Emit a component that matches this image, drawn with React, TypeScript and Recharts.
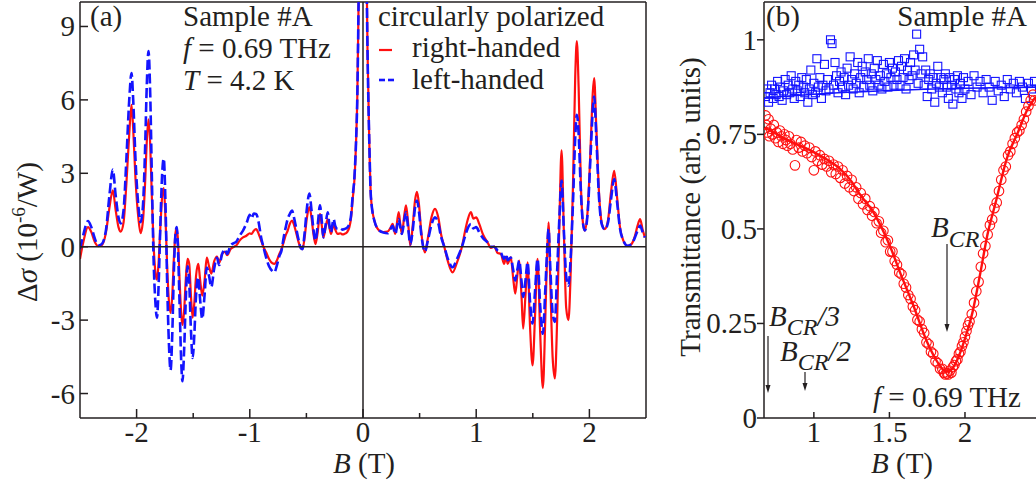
import React from 'react';
import { ComposedChart, LineChart, Line, Scatter, XAxis, YAxis, ReferenceLine } from 'recharts';

const FONT = '"Liberation Serif", "Times New Roman", serif';
const INK = '#231f20';
const RED = '#ff1010';
const BLUE = '#1414ff';

// ---- panel (a): delta sigma vs B, right/left handed ----
const fieldA = [
  -2.5, -2.47, -2.43, -2.4, -2.37, -2.34, -2.31, -2.27, -2.24, -2.21, -2.185, -2.16, -2.14, -2.115, -2.09, -2.065,
  -2.045, -2.03, -2.01, -1.985, -1.965, -1.945, -1.925, -1.91, -1.895, -1.88, -1.865, -1.85, -1.835, -1.82, -1.805,
  -1.79, -1.775, -1.76, -1.745, -1.73, -1.715, -1.7, -1.685, -1.67, -1.655, -1.645, -1.635, -1.62, -1.605, -1.595,
  -1.58, -1.565, -1.55, -1.535, -1.52, -1.505, -1.49, -1.475, -1.455, -1.44, -1.42, -1.4, -1.38, -1.36, -1.34,
  -1.315, -1.29, -1.27, -1.245, -1.22, -1.2, -1.17, -1.14, -1.12, -1.09, -1.06, -1.03, -1.0, -0.985, -0.965, -0.944,
  -0.92, -0.9, -0.88, -0.856, -0.83, -0.8, -0.783, -0.76, -0.74, -0.72, -0.7, -0.68, -0.665, -0.645, -0.627, -0.61,
  -0.592, -0.57, -0.55, -0.535, -0.515, -0.495, -0.474, -0.455, -0.44, -0.42, -0.4, -0.38, -0.365, -0.35, -0.33,
  -0.312, -0.297, -0.283, -0.26, -0.245, -0.224, -0.2, -0.18, -0.165, -0.14, -0.121, -0.105, -0.092, -0.075, -0.062,
  -0.05, -0.039, -0.025, 0, 0.025, 0.04, 0.055, 0.07, 0.1, 0.144, 0.18, 0.218, 0.24, 0.262, 0.285, 0.315, 0.33,
  0.344, 0.365, 0.38, 0.4, 0.418, 0.44, 0.46, 0.477, 0.495, 0.515, 0.547, 0.575, 0.605, 0.636, 0.665, 0.69, 0.718,
  0.75, 0.791, 0.83, 0.874, 0.9, 0.925, 0.953, 0.975, 1.0, 1.027, 1.06, 1.1, 1.13, 1.16, 1.188, 1.218, 1.247, 1.265,
  1.277, 1.306, 1.325, 1.345, 1.365, 1.38, 1.4, 1.415, 1.435, 1.454, 1.475, 1.498, 1.52, 1.542, 1.565, 1.589, 1.61,
  1.625, 1.639, 1.655, 1.675, 1.695, 1.715, 1.735, 1.754, 1.775, 1.795, 1.815, 1.835, 1.855, 1.875, 1.889, 1.905,
  1.925, 1.945, 1.96, 1.985, 2.01, 2.03, 2.042, 2.06, 2.085, 2.11, 2.136, 2.165, 2.19, 2.219, 2.245, 2.27, 2.3,
  2.336, 2.37, 2.4, 2.425, 2.448, 2.47, 2.49,
];
const rightHanded = [
  -0.5, 0.2, 0.8, 0.6, 0.2, 0.02, 0.05, 0.6, 1.6, 2.3, 1.5, 0.8, 0.62, 1.0, 2.6, 4.6,
  5.8, 4.8, 2.8, 1.2, 0.55, 1.0, 2.6, 4.3, 5.2, 4.2, 2.0, 0.1, -1.0, -1.35, -0.6,
  0.8, 2.0, 2.4, 1.2, -0.8, -2.2, -2.7, -2.0, -0.4, 0.6, 0.75, 0.3, -1.4, -2.8, -3.2,
  -2.6, -1.3, -0.5, -0.7, -2.0, -2.9, -2.3, -1.2, -0.7, -1.3, -2.0, -1.4, -0.45, -0.8, -1.1,
  -0.6, -0.4, -0.65, -0.3, -0.2, -0.35, -0.1, 0.0, 0.05, 0.25, 0.38, 0.45, 0.55, 0.52, 0.65, 0.72,
  0.5, 0.25, 0.0, -0.23, -0.5, -0.68, -0.7, -0.55, -0.3, -0.1, 0.2, 0.5, 0.66, 0.95, 1.07, 0.9,
  0.6, 0.2, -0.05, -0.1, 0.4, 1.2, 1.62, 1.2, 0.6, 0.1, 0.6, 1.34, 0.9, 0.38, 0.8,
  1.13, 0.8, 0.52, 0.93, 0.7, 0.52, 0.55, 0.5, 0.52, 0.6, 0.79, 1.2, 1.9, 2.8, 4.2,
  6.2, 10, 16, 30, 14, 8, 4.4, 2.03, 1.07, 0.66, 0.6, 0.62, 0.75, 0.93, 0.52, 1.41, 0.9,
  0.52, 1.3, 1.69, 0.9, 0.04, 0.9, 1.9, 2.24, 1.7, 0.6, -0.23, 0.4, 1.2, 1.55, 1.2, 0.5, 0.0,
  -0.6, -1.05, -0.65, 0.0, 0.6, 1.1, 1.41, 1.15, 1.2, 0.93, 0.5, 0.18, -0.05, 0.0, -0.25, -0.3, -0.7, -0.4,
  -0.7, -0.44, -1.2, -1.92, -1.1, -0.57, -2.0, -3.35, -2.0, -0.64, -3.2, -4.85, -2.8, -0.5, -3.5, -5.78, -3.0,
  -0.5, 1.0, -1.5, -4.5, -5.38, -3.0, 1.0, 3.94, 0.5, -2.5, -3.0, -1.0, 2.5, 7.0, 8.4, 6.5,
  2.5, 0.9, 0.66, 1.5, 4.0, 6.3, 6.89, 5.0, 2.2, 0.95, 0.72, 1.1, 2.2, 3.1, 2.0, 0.8, 0.25,
  0.04, 0.1, 0.4, 0.85, 1.13, 0.7, 0.38,
];
const leftHanded = [
  -0.1, 0.5, 1.05, 0.8, 0.35, 0.05, 0.1, 0.7, 2.1, 3.15, 2.1, 1.2, 0.95, 1.5, 3.6, 6.0,
  7.1, 6.0, 3.6, 1.7, 1.0, 1.6, 4.0, 6.6, 8.0, 6.3, 2.8, -0.5, -2.2, -2.9, -1.5,
  0.9, 2.9, 3.6, 1.8, -1.5, -3.9, -5.05, -3.6, -0.9, 0.6, 0.8, 0.0, -2.4, -4.8, -5.5,
  -4.2, -2.1, -0.8, -1.5, -3.4, -4.55, -3.6, -2.0, -1.25, -2.1, -2.95, -2.0, -0.85, -1.2, -1.65,
  -0.9, -0.45, -0.75, -0.3, -0.1, -0.3, 0.05, 0.15, 0.2, 0.45, 0.66, 0.95, 1.3, 1.15, 1.35, 1.34,
  0.95, 0.38, 0.0, -0.44, -0.8, -1.0, -1.05, -0.75, -0.4, -0.16, 0.4, 0.85, 1.14, 1.35, 1.48, 1.2,
  0.8, 0.3, -0.05, -0.1, 0.6, 1.6, 2.17, 1.5, 0.8, 0.25, 0.9, 1.69, 1.1, 0.38, 0.9,
  1.41, 0.9, 0.59, 1.13, 0.85, 0.72, 0.75, 0.7, 0.72, 0.78, 0.93, 1.3, 2.03, 2.9, 4.22,
  6.2, 10, 16, 30, 14, 8, 4.4, 2.03, 1.07, 0.66, 0.58, 0.55, 0.7, 0.85, 0.52, 1.13, 0.8,
  0.52, 1.1, 1.41, 0.7, 0.1, 0.7, 1.6, 1.89, 1.4, 0.5, -0.2, 0.3, 0.9, 1.2, 0.95, 0.4, 0.0,
  -0.5, -0.84, -0.5, 0.0, 0.4, 0.75, 0.93, 0.75, 0.8, 0.59, 0.35, 0.18, 0.0, 0.0, -0.15, -0.25, -0.5, -0.3,
  -0.55, -0.44, -0.9, -1.38, -0.9, -0.57, -1.4, -2.05, -1.4, -0.64, -2.2, -3.14, -1.8, -0.5, -2.4, -3.56, -1.8,
  -0.3, 0.72, -0.9, -2.7, -3.07, -1.0, 1.2, 2.7, 0.6, -1.2, -1.59, -0.4, 1.8, 4.5, 5.39, 4.6,
  2.2, 0.9, 0.66, 1.4, 3.7, 5.6, 6.14, 4.6, 2.0, 0.9, 0.7, 1.0, 1.9, 2.76, 1.8, 0.75, 0.25,
  0.04, 0.1, 0.35, 0.65, 0.86, 0.6, 0.38,
];
const ticksXA = [-2, -1.5, -1, -0.5, 0, 0.5, 1, 1.5, 2];
const ticksYA = [-6, -3, 0, 3, 6, 9];

// ---- panel (b): transmittance vs B ----
const circleB = [
  0.68, 0.685, 0.69, 0.7, 0.705, 0.715, 0.725, 0.735, 0.745, 0.755, 0.765, 0.775, 0.785, 0.795, 0.805, 0.815,
  0.825, 0.835, 0.845, 0.86, 0.875, 0.885, 0.9, 0.915, 0.925, 0.94, 0.955, 0.97, 0.985, 1.0, 1.01, 1.025, 1.04,
  1.055, 1.07, 1.085, 1.1, 1.115, 1.13, 1.145, 1.16, 1.175, 1.19, 1.205, 1.22, 1.235, 1.25, 1.265, 1.28, 1.295,
  1.31, 1.325, 1.34, 1.355, 1.37, 1.385, 1.4, 1.415, 1.43, 1.445, 1.46, 1.475, 1.49, 1.505, 1.52, 1.535, 1.55,
  1.565, 1.58, 1.595, 1.61, 1.625, 1.64, 1.655, 1.67, 1.685, 1.7, 1.715, 1.73, 1.745, 1.76, 1.775, 1.79, 1.805,
  1.82, 1.835, 1.85, 1.86, 1.87, 1.88, 1.89, 1.9, 1.91, 1.92, 1.93, 1.94, 1.95, 1.96, 1.97, 1.98, 1.99, 2.0,
  2.01, 2.02, 2.03, 2.045, 2.06, 2.075, 2.09, 2.105, 2.12, 2.135, 2.15, 2.165, 2.18, 2.195, 2.21, 2.225, 2.24,
  2.255, 2.27, 2.285, 2.3, 2.315, 2.33, 2.345, 2.36, 2.375, 2.39, 2.405, 2.42, 2.435, 2.45, 2.46,
];
const circleT = [
  0.8, 0.775, 0.755, 0.79, 0.745, 0.765, 0.75, 0.775, 0.74, 0.755, 0.73, 0.76, 0.745, 0.725, 0.75, 0.735,
  0.72, 0.745, 0.725, 0.71, 0.668, 0.735, 0.715, 0.73, 0.705, 0.72, 0.7, 0.715, 0.69, 0.655, 0.705, 0.68, 0.695,
  0.67, 0.685, 0.665, 0.68, 0.65, 0.67, 0.645, 0.665, 0.635, 0.655, 0.62, 0.64, 0.61, 0.63, 0.6, 0.61, 0.58,
  0.595, 0.565, 0.58, 0.55, 0.56, 0.535, 0.545, 0.515, 0.52, 0.49, 0.495, 0.465, 0.47, 0.44, 0.44, 0.415, 0.405,
  0.385, 0.38, 0.355, 0.345, 0.325, 0.315, 0.295, 0.285, 0.26, 0.255, 0.235, 0.225, 0.2, 0.195, 0.175, 0.17, 0.15,
  0.145, 0.13, 0.13, 0.12, 0.115, 0.118, 0.115, 0.125, 0.12, 0.135, 0.14, 0.15, 0.155, 0.17, 0.175, 0.19, 0.2, 0.215,
  0.23, 0.245, 0.255, 0.275, 0.305, 0.335, 0.36, 0.4, 0.435, 0.455, 0.485, 0.51, 0.525, 0.555, 0.57, 0.6, 0.63,
  0.655, 0.665, 0.695, 0.705, 0.725, 0.74, 0.755, 0.76, 0.775, 0.79, 0.81, 0.825, 0.84, 0.855, 0.84,
];
const squareB = [
  0.68, 0.69, 0.7, 0.71, 0.72, 0.73, 0.74, 0.75, 0.76, 0.77, 0.78, 0.79, 0.8, 0.81, 0.82, 0.83, 0.84, 0.85, 0.86,
  0.87, 0.88, 0.89, 0.9, 0.91, 0.92, 0.93, 0.94, 0.95, 0.96, 0.97, 0.98, 0.99, 1.0, 1.01, 1.02, 1.03, 1.04, 1.05,
  1.06, 1.07, 1.08, 1.09, 1.1, 1.11, 1.12, 1.13, 1.14, 1.15, 1.16, 1.17, 1.18, 1.19, 1.2, 1.21, 1.22, 1.23, 1.24,
  1.25, 1.26, 1.27, 1.28, 1.29, 1.3, 1.31, 1.32, 1.33, 1.34, 1.35, 1.36, 1.37, 1.38, 1.39, 1.4, 1.41, 1.42, 1.43,
  1.44, 1.45, 1.46, 1.47, 1.48, 1.49, 1.5, 1.51, 1.52, 1.53, 1.54, 1.55, 1.56, 1.57, 1.58, 1.59, 1.6, 1.61, 1.62,
  1.63, 1.64, 1.65, 1.66, 1.67, 1.68, 1.69, 1.7, 1.71, 1.72, 1.73, 1.74, 1.75, 1.76, 1.77, 1.78, 1.79, 1.8, 1.81,
  1.82, 1.83, 1.84, 1.85, 1.86, 1.87, 1.88, 1.89, 1.9, 1.91, 1.92, 1.93, 1.94, 1.95, 1.96, 1.97, 1.98, 1.99, 2.0,
  2.02, 2.04, 2.06, 2.08, 2.1, 2.12, 2.14, 2.16, 2.18, 2.2, 2.22, 2.24, 2.26, 2.28, 2.3, 2.32, 2.34, 2.36, 2.38,
  2.4, 2.42, 2.44, 2.46,
];
const squareT = [
  0.85, 0.87, 0.835, 0.86, 0.88, 0.845, 0.87, 0.855, 0.89, 0.85, 0.875, 0.84, 0.865, 0.895, 0.855, 0.88, 0.86, 0.905, 0.87,
  0.845, 0.89, 0.865, 0.88, 0.85, 0.9, 0.875, 0.86, 0.895, 0.835, 0.87, 0.92, 0.855, 0.885, 0.86, 0.95, 0.875, 0.9, 0.845,
  0.88, 0.935, 0.865, 0.895, 0.87, 1.0, 0.99, 0.88, 0.94, 0.905, 0.86, 0.89, 0.915, 0.875, 0.9, 0.855, 0.925, 0.88, 0.955,
  0.895, 0.87, 0.91, 0.885, 0.94, 0.86, 0.9, 0.93, 0.875, 0.915, 0.895, 0.95, 0.88, 0.91, 0.865, 0.925, 0.895, 0.945, 0.88,
  0.905, 0.87, 0.935, 0.89, 0.91, 0.875, 0.94, 0.9, 0.925, 0.88, 0.915, 0.895, 0.945, 0.88, 0.93, 0.9, 0.95, 0.87, 0.92,
  0.895, 0.94, 0.905, 0.96, 0.92, 1.015, 0.885, 0.975, 0.91, 0.955, 0.88, 0.92, 0.85, 0.895, 0.91, 0.87, 0.9, 0.835, 0.885,
  0.93, 0.875, 0.9, 0.86, 0.895, 0.91, 0.875, 0.845, 0.9, 0.88, 0.83, 0.895, 0.87, 0.905, 0.86, 0.885, 0.845, 0.9, 0.87,
  0.89, 0.855, 0.905, 0.875, 0.89, 0.86, 0.895, 0.875, 0.84, 0.89, 0.865, 0.88, 0.85, 0.895, 0.87, 0.885, 0.86, 0.89, 0.875,
  0.845, 0.885, 0.87, 0.89,
];
const fitRedB = [0.67, 0.75, 0.83, 0.92, 1.0, 1.1, 1.17, 1.25, 1.3, 1.4, 1.5, 1.58, 1.656, 1.745, 1.8, 1.85, 1.878, 1.91, 1.95, 2.0, 2.05, 2.1, 2.15, 2.2, 2.28, 2.35, 2.41, 2.47];
const fitRedT = [0.769, 0.752, 0.734, 0.718, 0.703, 0.68, 0.66, 0.625, 0.594, 0.54, 0.458, 0.375, 0.3, 0.205, 0.16, 0.13, 0.122, 0.128, 0.155, 0.21, 0.28, 0.38, 0.487, 0.565, 0.69, 0.755, 0.813, 0.85];
const fitBlueB = [0.67, 1.0, 1.5, 2.0, 2.47];
const fitBlueT = [0.846, 0.856, 0.866, 0.872, 0.875];
const ticksXB = [1, 1.5, 2];
const ticksYB = [0, 0.25, 0.5, 0.75, 1];

const dataA = fieldA.map((b, i) => ({ b, r: rightHanded[i], l: leftHanded[i] }));
const circles = circleB.map((b, i) => ({ b, t: circleT[i] }));
const squares = squareB.map((b, i) => ({ b, t: squareT[i] }));
const fitRed = fitRedB.map((b, i) => ({ b, t: fitRedT[i] }));
const fitBlue = fitBlueB.map((b, i) => ({ b, t: fitBlueT[i] }));

const txt = { fontFamily: FONT, fontSize: 29, fill: INK };

const XTickA = (props: any) => {
  const { x, y, payload } = props;
  const major = Number.isInteger(payload.value);
  return (
    <g>
      <line x1={x} y1={y} x2={x} y2={y - (major ? 9 : 5)} stroke={INK} strokeWidth={1.5} />
      {major && <text x={x} y={y + 24} textAnchor="middle" {...txt}>{payload.value}</text>}
    </g>
  );
};

const YTickA = (props: any) => {
  const { x, y, payload } = props;
  return (
    <g>
      <line x1={x} y1={y} x2={x + 8} y2={y} stroke={INK} strokeWidth={1.5} />
      <text x={x - 5} y={y + 10} textAnchor="end" {...txt}>{payload.value}</text>
    </g>
  );
};

const XTickB = (props: any) => {
  const { x, y, payload } = props;
  return (
    <g>
      <line x1={x} y1={y} x2={x} y2={y - 6} stroke={INK} strokeWidth={1.5} />
      <text x={x} y={y + 24} textAnchor="middle" {...txt}>{payload.value}</text>
    </g>
  );
};

const YTickB = (props: any) => {
  const { x, y, payload } = props;
  return (
    <g>
      <line x1={x} y1={y} x2={x - 7} y2={y} stroke={INK} strokeWidth={1.5} />
      <text x={x - 7} y={y + 10} textAnchor="end" {...txt}>{payload.value}</text>
    </g>
  );
};

const Circle = (p: any) => <circle cx={p.cx} cy={p.cy} r={4.8} fill="none" stroke={RED} strokeWidth={1.1} />;
const Square = (p: any) => <rect x={p.cx - 4} y={p.cy - 4} width={8} height={8} fill="none" stroke={BLUE} strokeWidth={1.1} />;

const Arrow = ({ x, y1, y2 }: { x: number; y1: number; y2: number }) => (
  <g>
    <line x1={x} y1={y1} x2={x} y2={y2 - 6} stroke={INK} strokeWidth={1.2} />
    <polygon points={`${x - 2.5},${y2 - 8} ${x + 2.5},${y2 - 8} ${x},${y2}`} fill={INK} />
  </g>
);

export default function App() {
  return (
    <div style={{ position: 'absolute', left: 0, top: 0, width: 1036, height: 483, background: '#fff', overflow: 'hidden' }}>
      <div style={{ position: 'absolute', left: 0, top: 0 }}>
        <LineChart width={660} height={483} data={dataA} margin={{ top: 2, right: 14, bottom: 64, left: 79 }}>
          <XAxis dataKey="b" type="number" domain={[-2.5, 2.5]} ticks={ticksXA} height={1} tickSize={0} tickMargin={0}
            tickLine={false} tick={XTickA} axisLine={{ stroke: INK, strokeWidth: 1.5 }} allowDataOverflow interval={0} />
          <YAxis type="number" domain={[-7, 10]} ticks={ticksYA} width={1} tickSize={0} tickMargin={0}
            tickLine={false} tick={YTickA} axisLine={{ stroke: INK, strokeWidth: 1.5 }} allowDataOverflow interval={0} />
          <ReferenceLine y={10} stroke={INK} strokeWidth={1.5} />
          <ReferenceLine x={2.5} stroke={INK} strokeWidth={1.5} />
          <Line type="monotone" dataKey="r" stroke={RED} strokeWidth={2.2} dot={false} isAnimationActive={false} />
          <Line type="monotone" dataKey="l" stroke={BLUE} strokeWidth={2.6} strokeDasharray="10 4" dot={false} isAnimationActive={false} />
          <ReferenceLine y={0} stroke={INK} strokeWidth={1.5} />
          <ReferenceLine x={0} stroke={INK} strokeWidth={1.5} />
        </LineChart>
      </div>
      <div style={{ position: 'absolute', left: 660, top: 0 }}>
        <ComposedChart width={376} height={483} margin={{ top: 2, right: 0, bottom: 64, left: 103 }}>
          <XAxis dataKey="b" type="number" domain={[0.67, 2.47]} ticks={ticksXB} height={1} tickSize={0} tickMargin={0}
            tickLine={false} tick={XTickB} axisLine={{ stroke: INK, strokeWidth: 1.5 }} allowDataOverflow interval={0} />
          <YAxis dataKey="t" type="number" domain={[0, 1.1]} ticks={ticksYB} width={1} tickSize={0} tickMargin={0}
            tickLine={false} tick={YTickB} axisLine={{ stroke: INK, strokeWidth: 1.5 }} allowDataOverflow interval={0} />
          <ReferenceLine y={1.1} stroke={INK} strokeWidth={1.5} />
          <Scatter data={squares} dataKey="t" shape={Square} isAnimationActive={false} />
          <Line data={fitBlue} type="monotone" dataKey="t" stroke={BLUE} strokeWidth={1.6} dot={false} isAnimationActive={false} />
          <Scatter data={circles} dataKey="t" shape={Circle} isAnimationActive={false} />
          <Line data={fitRed} type="monotone" dataKey="t" stroke={RED} strokeWidth={2.4} dot={false} isAnimationActive={false} />
        </ComposedChart>
      </div>
      <svg width={1036} height={483} style={{ position: 'absolute', left: 0, top: 0, pointerEvents: 'none' }}>
        {/* panel (a) annotations */}
        <text x={90} y={26} {...txt}>(a)</text>
        <text x={183} y={26} {...txt}>Sample #A</text>
        <text x={183} y={58} {...txt}><tspan fontStyle="italic">f</tspan> = 0.69 THz</text>
        <text x={183} y={90} {...txt}><tspan fontStyle="italic">T</tspan> = 4.2 K</text>
        <text x={378} y={26} {...txt}>circularly polarized</text>
        <line x1={379} y1={50} x2={392} y2={50} stroke={RED} strokeWidth={2.2} />
        <text x={412} y={57} {...txt}>right-handed</text>
        <line x1={379} y1={80} x2={385} y2={80} stroke={BLUE} strokeWidth={2.6} />
        <line x1={388} y1={80} x2={394} y2={80} stroke={BLUE} strokeWidth={2.6} />
        <text x={412} y={89} {...txt}>left-handed</text>
        <text x={364} y={473} textAnchor="middle" {...txt}><tspan fontStyle="italic">B</tspan> (T)</text>
        <text x={37} y={232} textAnchor="middle" transform="rotate(-90 37 232)" {...txt}>
          Δ<tspan fontStyle="italic">σ</tspan> (10<tspan fontSize={19} dy={-12}>-6</tspan><tspan dy={12}>/W)</tspan>
        </text>
        {/* panel (b) annotations */}
        <text x={766} y={26} {...txt}>(b)</text>
        <text x={1027} y={26} textAnchor="end" {...txt}>Sample #A</text>
        <text x={931} y={237} {...txt}><tspan fontStyle="italic">B</tspan><tspan fontStyle="italic" fontSize={24} dy={10}>CR</tspan></text>
        <Arrow x={947} y1={244} y2={332} />
        <text x={769} y={326} {...txt}><tspan fontStyle="italic">B</tspan><tspan fontStyle="italic" fontSize={24} dy={9}>CR</tspan><tspan fontStyle="italic" dy={-9}>/3</tspan></text>
        <Arrow x={768} y1={336} y2={393} />
        <text x={780} y={361} {...txt}><tspan fontStyle="italic">B</tspan><tspan fontStyle="italic" fontSize={24} dy={9}>CR</tspan><tspan fontStyle="italic" dy={-9}>/2</tspan></text>
        <Arrow x={805} y1={372} y2={391} />
        <text x={873} y={407} {...txt}><tspan fontStyle="italic">f</tspan> = 0.69 THz</text>
        <text x={902} y={473} textAnchor="middle" {...txt}><tspan fontStyle="italic">B</tspan> (T)</text>
        <text x={700} y={207} textAnchor="middle" transform="rotate(-90 700 207)" {...txt}>Transmittance (arb. units)</text>
      </svg>
    </div>
  );
}
